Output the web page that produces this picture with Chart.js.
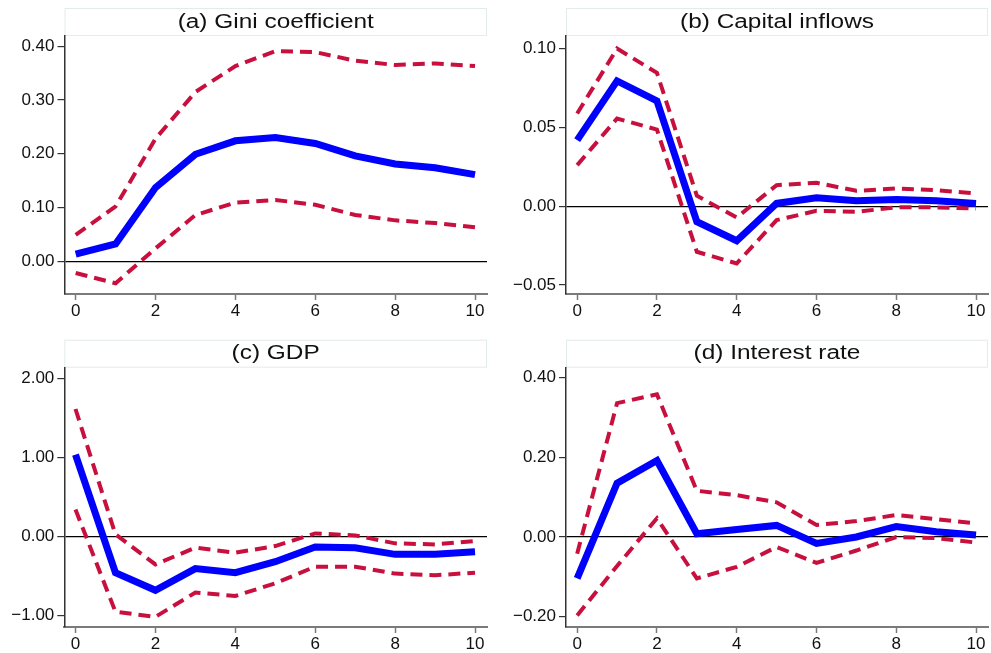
<!DOCTYPE html>
<html>
<head>
<meta charset="utf-8">
<script src="https://cdn.jsdelivr.net/npm/chart.js@4.4.0/dist/chart.umd.min.js"></script>
<style>
body{margin:0;background:#fff;width:991px;height:653px;position:relative;overflow:hidden}
canvas{position:absolute}
</style>
</head>
<body>
<canvas id="pa" width="495" height="326" style="left:0;top:0"></canvas>
<canvas id="pb" width="496" height="326" style="left:495px;top:0"></canvas>
<canvas id="pc" width="495" height="327" style="left:0;top:326px"></canvas>
<canvas id="pd" width="496" height="327" style="left:495px;top:326px"></canvas>
<script>
// impulse responses, horizon 0..10
const horizon = [0, 1, 2, 3, 4, 5, 6, 7, 8, 9, 10];
const xTicks = [0, 2, 4, 6, 8, 10];

const giniIrf   = [0.013, 0.032, 0.137, 0.199, 0.224, 0.230, 0.219, 0.196, 0.181, 0.174, 0.161];
const giniUpper = [0.049, 0.102, 0.228, 0.315, 0.363, 0.391, 0.389, 0.373, 0.365, 0.368, 0.363];
const giniLower = [-0.022, -0.041, 0.024, 0.086, 0.109, 0.114, 0.105, 0.086, 0.076, 0.071, 0.063];
const giniTicks = [0, 0.1, 0.2, 0.3, 0.4];

const capIrf   = [0.0419, 0.0795, 0.0668, -0.0099, -0.0220, 0.0017, 0.0053, 0.0034, 0.0042, 0.0034, 0.0017];
const capUpper = [0.0588, 0.1000, 0.0846, 0.0066, -0.0072, 0.0133, 0.0148, 0.0097, 0.0112, 0.0101, 0.0080];
const capLower = [0.0260, 0.0556, 0.0486, -0.0290, -0.0364, -0.0089, -0.0030, -0.0036, -0.0008, -0.0008, -0.0015];
const capTicks = [-0.05, 0, 0.05, 0.1];

const gdpIrf   = [1.04, -0.455, -0.678, -0.404, -0.455, -0.316, -0.130, -0.139, -0.223, -0.223, -0.190];
const gdpUpper = [1.617, 0.030, -0.350, -0.139, -0.202, -0.118, 0.042, 0.017, -0.084, -0.097, -0.055];
const gdpLower = [0.345, -0.950, -1.015, -0.707, -0.750, -0.590, -0.379, -0.379, -0.467, -0.488, -0.455];
const gdpTicks = [-1, 0, 1, 2];

const rateIrf   = [-0.104, 0.135, 0.192, 0.008, 0.019, 0.029, -0.016, 0.000, 0.026, 0.013, 0.005];
const rateUpper = [-0.042, 0.336, 0.358, 0.116, 0.105, 0.087, 0.030, 0.040, 0.055, 0.045, 0.034];
const rateLower = [-0.197, -0.073, 0.047, -0.104, -0.075, -0.025, -0.065, -0.034, 0.000, -0.003, -0.014];
const rateTicks = [-0.2, 0, 0.2, 0.4];

const FONT = '"Liberation Sans", Arial, sans-serif';

const titleBox = {
    id: 'titleBox',
    beforeDraw(chart, args, opts) {
        const ctx = chart.ctx, a = chart.chartArea;
        ctx.save();
        ctx.fillStyle = '#fff';
        ctx.strokeStyle = '#e3ecec';
        ctx.lineWidth = 1;
        ctx.fillRect(a.left, a.top - 28, a.right - a.left, 27);
        ctx.strokeRect(a.left + 0.5, a.top - 27.5, a.right - a.left - 1, 27);
        ctx.fillStyle = '#111';
        ctx.font = '20px ' + FONT;
        ctx.textAlign = 'center';
        ctx.textBaseline = 'middle';
        ctx.translate((a.left + a.right) / 2, a.top - 14);
        ctx.scale(1.22, 1);
        ctx.fillText(opts.text, 0, 0);
        ctx.restore();
    }
};

function pts(vals) {
    return horizon.map((h, i) => ({x: h, y: vals[i]}));
}

function fmt(v) {
    const s = Math.abs(v).toFixed(2);
    return v < -1e-9 ? '\u2212' + s : s;
}

function irfChart(id, title, irf, upper, lower, yTicks, ymin, ymax, yAxisW, area) {
    const cv = document.getElementById(id);
    const band = {
        borderColor: '#c8103e',
        borderWidth: 4,
        borderDash: [12, 7],
        pointRadius: 0,
        fill: false,
        tension: 0
    };
    new Chart(cv.getContext('2d'), {
        type: 'line',
        data: {
            datasets: [
                {data: pts(irf), borderColor: '#0000ff', borderWidth: 7, pointRadius: 0, fill: false, tension: 0},
                Object.assign({data: pts(upper)}, band),
                Object.assign({data: pts(lower)}, band)
            ]
        },
        options: {
            responsive: false,
            animation: false,
            events: [],
            layout: {padding: {left: 0, right: cv.width - area.right, top: area.top, bottom: 0}},
            plugins: {legend: {display: false}, tooltip: {enabled: false}, titleBox: {text: title}},
            scales: {
                x: {
                    type: 'linear',
                    min: -0.28,
                    max: 10.3,
                    afterBuildTicks: s => { s.ticks = xTicks.map(v => ({value: v})); },
                    afterFit: s => { s.height = cv.height - area.bottom; },
                    border: {display: true, color: '#7a7a7a', width: 2},
                    grid: {drawOnChartArea: false, tickLength: 6, tickColor: '#7a7a7a', tickWidth: 1.5},
                    ticks: {color: '#111', font: {family: FONT, size: 17}, padding: 1, maxRotation: 0}
                },
                y: {
                    min: ymin,
                    max: ymax,
                    afterBuildTicks: s => { s.ticks = yTicks.map(v => ({value: v})); },
                    afterFit: s => { s.width = yAxisW; },
                    border: {display: true, color: '#333', width: 1.5},
                    grid: {
                        color: c => (c.tick && Math.abs(c.tick.value) < 1e-9) ? '#000' : 'rgba(0,0,0,0)',
                        lineWidth: 1.2,
                        tickColor: '#333',
                        tickLength: 7,
                        tickWidth: 1.2
                    },
                    ticks: {color: '#111', font: {family: FONT, size: 17}, padding: 3, callback: v => fmt(v)}
                }
            }
        },
        plugins: [titleBox]
    });
}

irfChart('pa', '(a) Gini coefficient', giniIrf, giniUpper, giniLower, giniTicks, -0.061, 0.419, 64.5, {top: 36, bottom: 294, right: 487});
irfChart('pb', '(b) Capital inflows', capIrf, capUpper, capLower, capTicks, -0.0558, 0.108, 71, {top: 36, bottom: 294, right: 493});
irfChart('pc', '(c) GDP', gdpIrf, gdpUpper, gdpLower, gdpTicks, -1.143, 2.14, 64.3, {top: 41.7, bottom: 301, right: 487});
irfChart('pd', '(d) Interest rate', rateIrf, rateUpper, rateLower, rateTicks, -0.226, 0.425, 71, {top: 41.7, bottom: 301, right: 493});
</script>
</body>
</html>
